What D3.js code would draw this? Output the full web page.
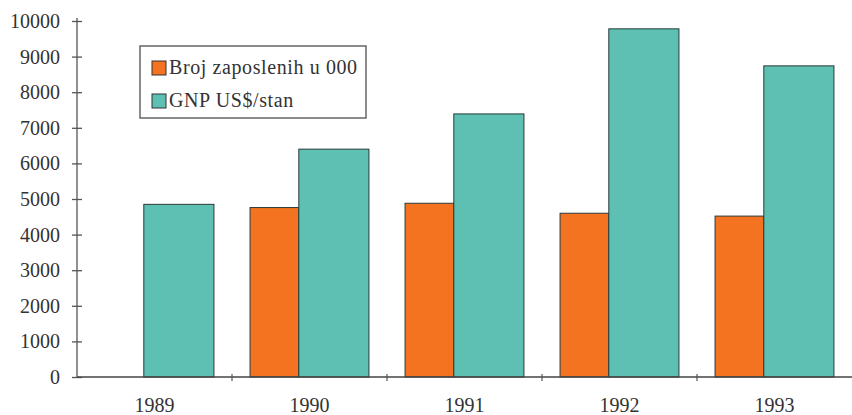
<!DOCTYPE html>
<html>
<head>
<meta charset="utf-8">
<script src="https://cdn.jsdelivr.net/npm/d3@7"></script>
<style>
    body { margin: 0; background: #fff; }
    svg text { font-family: "Liberation Serif", "DejaVu Serif", "Times New Roman", serif !important; fill: #333; }
</style>
</head>
<body>
<div id="chart"></div>
<script>
const years = ['1989', '1990', '1991', '1992', '1993'];
const seriesNames = ['Broj zaposlenih u 000', 'GNP US$/stan'];
const employed = [null, 4760, 4880, 4600, 4520];
const gnp = [4850, 6400, 7390, 9780, 8740];
const yTicks = [0, 1000, 2000, 3000, 4000, 5000, 6000, 7000, 8000, 9000, 10000];

const colors = ['#f47321', '#5dc0b2'];
const fontStack = '"Liberation Serif", "DejaVu Serif", "Times New Roman", serif';

const width = 852;
const height = 415;
const margin = { top: 21, right: 0, bottom: 38, left: 77 };
const innerW = width - margin.left - margin.right;
const innerH = height - margin.top - margin.bottom;

const svg = d3.select('#chart')
    .append('svg')
    .attr('width', width)
    .attr('height', height);

const g = svg.append('g')
    .attr('transform', `translate(${margin.left}, ${margin.top})`);

const xScale = d3.scaleBand()
    .domain(years)
    .range([0, innerW])
    .paddingInner(0.233)
    .paddingOuter(0.1165);

// orange bars are narrower than teal ones in the original
const subScale = d3.scaleLinear()
    .domain([0, 1])
    .range([0, xScale.bandwidth()]);
const splitAt = 0.41;

const yScale = d3.scaleLinear()
    .domain([0, 10000])
    .range([innerH, 0]);

// y axis
const yAxis = g.append('g')
    .call(d3.axisLeft(yScale)
        .tickValues(yTicks)
        .tickSize(5)
        .tickPadding(12)
        .tickFormat(d3.format('d')));
yAxis.attr('font-family', fontStack);
yAxis.select('.domain').attr('stroke', '#555').attr('stroke-width', 1.3)
    .attr('d', `M0,${innerH}V-3`);
yAxis.selectAll('.tick line').attr('x1', -5).attr('x2', 5).attr('stroke', '#555').attr('stroke-width', 1.3);
yAxis.selectAll('.tick text')
    .style('font-size', '20px')
    .attr('fill', '#333');

// bars
const rows = years.map((y, i) => ({ year: y, values: [employed[i], gnp[i]] }));

const groups = g.selectAll('.group')
    .data(rows)
    .enter()
    .append('g')
    .attr('class', 'group')
    .attr('transform', d => `translate(${xScale(d.year)}, 0)`);

groups.selectAll('rect')
    .data(d => d.values.map((v, k) => ({ k: k, v: v })).filter(d => d.v !== null))
    .enter()
    .append('rect')
    .attr('x', d => d.k === 0 ? subScale(0) : subScale(splitAt))
    .attr('width', d => d.k === 0 ? subScale(splitAt) - subScale(0) : subScale(1) - subScale(splitAt))
    .attr('y', d => yScale(d.v))
    .attr('height', d => innerH - yScale(d.v))
    .attr('fill', d => colors[d.k])
    .attr('stroke', '#2a3a38')
    .attr('stroke-width', 1);

// x axis
const step = xScale.step();
const boundaries = years.slice(1).map(y => xScale(y) - step * 0.1165);
const xAxis = g.append('g')
    .attr('transform', `translate(0, ${innerH})`);
xAxis.append('line')
    .attr('x1', 0).attr('x2', innerW)
    .attr('stroke', '#444').attr('stroke-width', 1.5);
xAxis.selectAll('.xtick')
    .data(boundaries)
    .enter()
    .append('line')
    .attr('x1', d => d).attr('x2', d => d)
    .attr('y1', -3).attr('y2', 4)
    .attr('stroke', '#555').attr('stroke-width', 1.2);
xAxis.selectAll('.xlabel')
    .data(years)
    .enter()
    .append('text')
    .attr('x', d => xScale(d) + xScale.bandwidth() / 2)
    .attr('y', 35)
    .attr('text-anchor', 'middle')
    .style('font-size', '20px')
    .text(d => d);

// legend
const legend = svg.append('g')
    .attr('transform', 'translate(140, 46)');
legend.append('rect')
    .attr('width', 226)
    .attr('height', 72)
    .attr('fill', '#fff')
    .attr('stroke', '#666')
    .attr('stroke-width', 1.5);
seriesNames.forEach((name, i) => {
    const item = legend.append('g')
        .attr('transform', `translate(12, ${15 + i * 33})`);
    item.append('rect')
        .attr('width', 14)
        .attr('height', 14)
        .attr('fill', colors[i])
        .attr('stroke', '#333')
        .attr('stroke-width', 1);
    item.append('text')
        .attr('x', 17)
        .attr('y', 13)
        .style('font-size', '20px')
        .style('letter-spacing', '0.6px')
        .text(name);
});
</script>
</body>
</html>
